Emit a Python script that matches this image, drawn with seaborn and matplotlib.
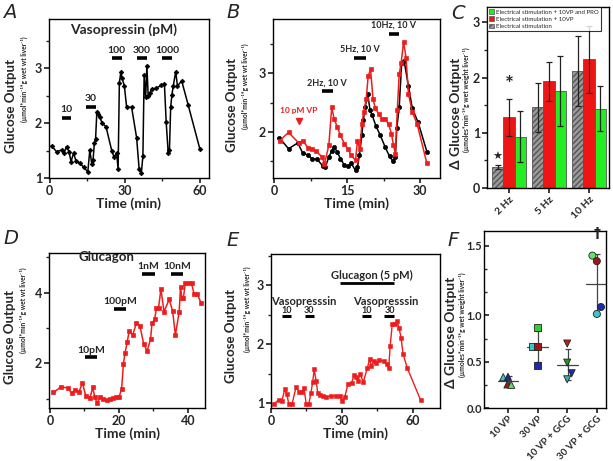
import numpy as np
import pandas as pd
import matplotlib
matplotlib.use("Agg")
import matplotlib.pyplot as plt
import seaborn as sns
from matplotlib.patches import Patch
from matplotlib.ticker import MultipleLocator, FixedLocator

# ---- panel A: vasopressin dose response ----
A_time = [0.7, 2.7, 4.7, 5.7, 6.7, 7.7, 8.5, 9.5, 10.5, 12.0, 13.5, 15.2, 16.0, 16.8,
          17.3, 17.8, 18.3, 18.8, 19.4, 20.0, 20.8, 22.5, 24.8, 25.7, 26.7, 27.3, 27.8,
          28.4, 28.9, 29.8, 30.7, 32.7, 34.7, 35.7, 36.6, 37.2, 37.7, 38.3, 38.8, 39.3,
          40.0, 40.8, 42.6, 44.6, 45.8, 46.5, 47.3, 47.8, 48.3, 48.8, 49.3, 50.3, 51.0,
          52.7, 55.3, 60.0]
A_glucose = [1.59, 1.48, 1.51, 1.46, 1.57, 1.48, 1.30, 1.45, 1.31, 1.27, 1.20, 1.11, 1.51,
             1.25, 1.33, 1.63, 1.71, 2.20, 2.17, 2.12, 2.01, 1.93, 1.49, 1.38, 1.46, 1.16,
             2.74, 2.93, 2.82, 2.68, 2.29, 2.29, 1.73, 1.16, 1.10, 1.40, 2.88, 2.47, 3.05,
             2.50, 2.55, 2.62, 2.64, 2.69, 2.71, 2.02, 1.46, 1.51, 2.30, 2.52, 2.67, 2.94,
             2.68, 2.77, 2.33, 1.52]
A_doses = ["10", "30", "100", "300", "1000"]
A_dose_start = [4.7, 14.4, 24.7, 34.7, 45.0]
A_dose_end = [8.3, 18.4, 28.7, 38.7, 48.7]
A_dose_level = [2.10, 2.30, 3.18, 3.18, 3.18]

# ---- panel B: electrical stimulation, with / without 10 pM VP ----
B_time_ctrl = [1.0, 2.9, 4.8, 5.8, 6.9, 7.7, 8.8, 9.9, 10.5, 11.2, 11.8, 12.3, 12.9, 13.6,
               14.4, 15.1, 15.8, 16.7, 17.1, 17.5, 18.0, 18.3, 18.7, 19.2, 19.7, 20.1, 20.9,
               21.8, 22.8, 23.7, 24.4, 24.9, 25.2, 25.7, 26.2, 26.7, 27.6, 28.4, 29.6, 31.4]
B_glucose_ctrl = [1.90, 1.71, 1.81, 1.64, 1.60, 1.54, 1.53, 1.42, 1.40, 1.57, 1.67, 1.74,
                  1.66, 1.54, 1.43, 1.41, 1.46, 1.34, 1.40, 1.60, 1.94, 2.20, 2.43, 2.65,
                  2.37, 2.29, 2.10, 1.94, 1.74, 1.58, 1.50, 1.57, 2.06, 2.43, 3.17, 3.22,
                  2.78, 2.40, 2.16, 1.66]
B_time_vp = [1.1, 2.9, 5.0, 5.8, 6.9, 7.7, 8.6, 9.8, 10.3, 11.2, 11.8, 12.3, 12.9, 13.6,
             14.4, 15.1, 15.8, 16.7, 17.1, 17.6, 18.0, 18.4, 18.9, 19.3, 19.8, 20.3, 20.8,
             21.5, 22.2, 22.8, 23.5, 24.1, 24.5, 24.9, 25.3, 25.7, 26.1, 26.6, 27.1, 27.6,
             28.4, 29.4, 31.4]
B_glucose_vp = [1.85, 1.99, 1.81, 1.85, 1.73, 1.71, 1.67, 1.57, 1.45, 1.77, 2.42, 2.22,
                2.09, 1.94, 1.80, 1.71, 1.60, 1.51, 1.85, 1.70, 2.13, 2.34, 2.56, 2.95,
                3.07, 2.56, 2.40, 2.30, 2.22, 2.22, 2.13, 1.97, 1.78, 1.62, 2.37, 2.99,
                3.18, 3.54, 3.27, 2.65, 2.34, 2.13, 1.46]
B_stims = ["2Hz, 10 V", "5Hz, 10 V", "10Hz, 10 V"]
B_stim_start = [9.7, 16.4, 23.5]
B_stim_end = [12.0, 18.8, 25.7]
B_stim_level = [2.69, 3.26, 3.68]

# ---- panel C: delta glucose output per frequency ----
C_freqs = ["2 Hz", "5 Hz", "10 Hz"]
C_conditions = ["Electrical stimulation", "Electrical stimulation + 10VP",
                "Electrical stimulation + 10VP and PRO"]
C_mean = {"Electrical stimulation": [0.38, 1.46, 2.12],
          "Electrical stimulation + 10VP": [1.28, 1.93, 2.33],
          "Electrical stimulation + 10VP and PRO": [0.93, 1.76, 1.44]}
C_err = {"Electrical stimulation": [0.04, 0.45, 0.63],
         "Electrical stimulation + 10VP": [0.33, 0.36, 0.61],
         "Electrical stimulation + 10VP and PRO": [0.46, 0.64, 0.41]}

# ---- panel D: glucagon dose response ----
D_time = [1.0, 3.1, 5.2, 6.3, 7.2, 8.4, 9.4, 10.4, 11.6, 12.4, 13.0, 13.7, 14.5, 15.3,
          16.4, 17.4, 18.4, 19.3, 20.1, 20.8, 21.3, 21.8, 22.4, 23.0, 24.0, 25.1, 26.1,
          27.2, 28.2, 29.2, 29.6, 30.4, 30.9, 31.5, 32.2, 33.1, 34.6, 35.6, 36.4, 37.5,
          37.9, 38.3, 38.7, 39.3, 40.3, 41.1, 41.8, 42.7, 43.9]
D_glucose = [1.18, 1.33, 1.31, 1.15, 1.26, 1.19, 1.45, 1.07, 1.03, 1.32, 1.05, 0.87, 1.05,
             1.00, 0.96, 0.99, 1.03, 1.05, 1.06, 1.29, 1.98, 2.30, 2.60, 2.92, 2.80, 3.15,
             3.06, 2.55, 2.35, 2.69, 3.13, 3.26, 3.56, 3.56, 4.10, 3.46, 3.81, 3.48, 2.80,
             3.46, 4.17, 3.84, 3.84, 4.27, 4.26, 4.26, 3.97, 3.97, 3.70]
D_doses = ["10pM", "100pM", "1nM", "10nM"]
D_dose_start = [10.1, 18.5, 26.7, 35.1]
D_dose_end = [13.7, 22.1, 30.4, 38.6]
D_dose_level = [2.17, 3.53, 4.53, 4.53]

# ---- panel E: vasopressin on top of 5 pM glucagon ----
E_time = [1.4, 3.2, 4.6, 5.8, 6.7, 7.5, 8.9, 10.6, 12.0, 13.0, 14.0, 14.9, 16.0, 16.9,
          17.6, 18.3, 19.1, 19.8, 20.8, 21.9, 23.4, 25.5, 27.7, 29.1, 29.9, 31.2, 32.6,
          34.1, 35.1, 35.9, 36.9, 37.6, 39.1, 40.8, 41.7, 42.5, 43.4, 44.5, 45.9, 47.6,
          49.0, 49.8, 50.4, 51.3, 52.4, 53.3, 54.2, 55.0, 55.9, 57.6, 63.3]
E_glucose = [0.99, 1.05, 1.03, 1.23, 1.15, 0.99, 0.98, 1.27, 1.18, 1.19, 1.25, 0.98, 0.99,
             1.17, 1.35, 1.57, 1.37, 1.17, 1.13, 1.12, 1.10, 1.12, 1.12, 1.12, 1.04, 1.10,
             1.33, 1.34, 1.47, 1.44, 1.38, 1.49, 1.36, 1.60, 1.74, 1.63, 1.71, 1.68, 1.73,
             1.71, 1.66, 1.59, 1.96, 2.34, 2.34, 2.39, 2.27, 2.11, 1.83, 1.60, 1.05]
E_vp_doses = ["10", "30", "10", "30"]
E_vp_start = [4.5, 14.2, 38.4, 48.0]
E_vp_end = [8.5, 18.2, 42.4, 52.2]

# ---- panel F: individual livers ----
F_groups = ["10 VP", "30 VP", "10 VP + GCG", "30 VP + GCG"]
F_values = [[0.333, 0.337, 0.254, 0.250],
            [0.87, 0.66, 0.66, 0.454],
            [0.696, 0.49, 0.375, 0.31],
            [1.43, 1.39, 1.06, 1.01]]
F_colors = [["#39c6c6", "#1c2a9a", "#a01616", "#5fdc5f"],
            ["#2fcf2f", "#39c6c6", "#a01616", "#1c2ab0"],
            ["#c41a1a", "#1f9a1f", "#1c2ab0", "#39b0b0"],
            ["#5fe85f", "#a01616", "#1c2ab0", "#39c6c6"]]
F_markers = ["^", "s", "v", "o"]
F_offsets = [[-0.16, 0.0, -0.02, 0.11], [0.0, -0.16, 0.0, 0.0],
             [0.0, 0.0, 0.15, 0.0], [-0.15, 0.0, 0.14, 0.0]]

RED = "#ee1d1d"
W, H = 613, 461

sns.set_theme(style="ticks")
plt.rcParams["font.family"] = ["Lato", "DejaVu Sans"]
plt.rcParams["font.weight"] = "bold"
plt.rcParams["axes.linewidth"] = 1.0
plt.rcParams["xtick.major.size"] = 3.5
plt.rcParams["ytick.major.size"] = 3.5
plt.rcParams["xtick.minor.size"] = 2
plt.rcParams["ytick.minor.size"] = 2
plt.rcParams["xtick.minor.visible"] = True
plt.rcParams["ytick.minor.visible"] = True

fig = plt.figure(figsize=(W / 100, H / 100), dpi=100)


def add_ax(l, r, t, b):
    return fig.add_axes([l / W, 1 - b / H, (r - l) / W, (b - t) / H])


def style(ax, tick_size=9):
    for s in ax.spines.values():
        s.set_visible(True)
        s.set_color("black")
    ax.tick_params(labelsize=tick_size, pad=1.5)
    for lab in ax.get_xticklabels() + ax.get_yticklabels():
        lab.set_fontweight("bold")


def ylabels(ax, main, units, xm, ym, xu, yu, size=9.5):
    ax.text(xm, ym, main, transform=ax.transAxes, rotation=90, ha="center",
            va="center", fontsize=size, fontweight="bold")
    ax.text(xu, yu, units, transform=ax.transAxes, rotation=90, ha="center",
            va="center", fontsize=4.8, fontweight="bold")


def dose_bar(ax, x0, x1, y, label, size=7.5, dy=0.06):
    ax.plot([x0, x1], [y, y], color="black", lw=2.6, solid_capstyle="butt")
    ax.text((x0 + x1) / 2, y + dy, label, ha="center", va="bottom",
            fontsize=size, fontweight="bold")


units_wt = "(µmol*min⁻¹*g wet wt liver⁻¹)"
units_ww = "(µmoles*min⁻¹*g wet weight liver⁻¹)"

# ---------------- A ----------------
ax = add_ax(49, 209, 19, 178)
sns.lineplot(x=A_time, y=A_glucose, ax=ax, color="black", marker="D", markersize=2.4,
             markeredgecolor="black", markeredgewidth=0.5, lw=1.1, sort=False,
             estimator=None)
ax.set_xlim(-0.3, 63.6)
ax.set_ylim(1, 3.9)
ax.set_xticks([0, 30, 60])
ax.set_yticks([1, 2, 3])
ax.xaxis.set_minor_locator(MultipleLocator(15))
ax.yaxis.set_minor_locator(MultipleLocator(0.5))
ax.set_xlabel("Time (min)", fontsize=10, fontweight="bold", labelpad=0)
ax.set_ylabel("")
for lab, x0, x1, lv in zip(A_doses, A_dose_start, A_dose_end, A_dose_level):
    dose_bar(ax, x0, x1, lv, lab, size=7.5, dy=0.06)
ax.text(29.3, 3.71, "Vasopressin (pM)", ha="center", va="center", fontsize=10,
        fontweight="bold")
style(ax)
ylabels(ax, "Glucose Output", units_wt, -0.24, 0.455, -0.156, 0.62)

# ---------------- B ----------------
ax = add_ax(273, 440, 19, 178)
sns.lineplot(x=B_time_ctrl, y=B_glucose_ctrl, ax=ax, color="black", marker="o",
             markersize=3.0, markeredgecolor="black", markeredgewidth=0.5, lw=1.1,
             sort=False, estimator=None)
sns.lineplot(x=B_time_vp, y=B_glucose_vp, ax=ax, color=RED, marker="s",
             markersize=3.2, markeredgecolor=RED, markeredgewidth=0.5, lw=1.1,
             sort=False, estimator=None)
ax.set_xlim(-0.3, 34.1)
ax.set_ylim(1.21, 3.93)
ax.set_xticks([0, 15, 30])
ax.set_yticks([2, 3])
ax.xaxis.set_minor_locator(MultipleLocator(7.5))
ax.yaxis.set_minor_locator(MultipleLocator(0.5))
ax.set_xlabel("Time (min)", fontsize=10, fontweight="bold", labelpad=0)
for lab, x0, x1, lv in zip(B_stims, B_stim_start, B_stim_end, B_stim_level):
    dose_bar(ax, x0, x1, lv, lab, size=6.5, dy=0.07)
ax.text(5.0, 2.31, "10 pM VP", color=RED, ha="center", va="bottom", fontsize=6,
        fontweight="bold")
ax.plot([5.0], [2.18], marker="v", color=RED, markersize=4.5)
style(ax)
ylabels(ax, "Glucose Output", units_wt, -0.245, 0.46, -0.165, 0.58)

# ---------------- C ----------------
ax = add_ax(487, 609, 7, 188)
rows = []
for cond in C_conditions:
    for f, m in zip(C_freqs, C_mean[cond]):
        rows.append({"freq": f, "cond": cond, "value": m})
cdf = pd.DataFrame(rows)
palette = {C_conditions[0]: "#9a9a9a", C_conditions[1]: "#ee1515", C_conditions[2]: "#22ee22"}
sns.barplot(data=cdf, x="freq", y="value", hue="cond", hue_order=C_conditions,
            palette=palette, ax=ax, errorbar=None, width=0.86, edgecolor="#555555",
            linewidth=0.6, saturation=1, legend=False)
for i, cond in enumerate(C_conditions):
    cont = ax.containers[i]
    xs = [b.get_x() + b.get_width() / 2 for b in cont]
    ax.errorbar(xs, C_mean[cond], yerr=C_err[cond], fmt="none", ecolor="#222222",
                elinewidth=0.9, capsize=2.5, capthick=0.9)
    if i == 0:
        for b in cont:
            b.set_hatch("//////")
            b.set_edgecolor("#555555")
gx = [b.get_x() + b.get_width() / 2 for b in ax.containers[0]]
rx = [b.get_x() + b.get_width() / 2 for b in ax.containers[1]]
ax.text(gx[0], 0.47, "★", ha="center", va="bottom", fontsize=8, family="DejaVu Sans")
ax.text(rx[0], 1.68, "*", ha="center", va="bottom", fontsize=15, fontweight="bold")
ax.set_ylim(0, 3.28)
ax.set_xlim(-0.55, 2.5)
ax.set_yticks([0, 1, 2, 3])
ax.yaxis.set_minor_locator(MultipleLocator(0.5))
ax.xaxis.set_minor_locator(FixedLocator([]))
ax.set_xlabel("")
ax.set_ylabel("")
style(ax)
ax.tick_params(axis="x", labelsize=7.5)
plt.setp(ax.get_xticklabels(), rotation=45, ha="right", rotation_mode="anchor",
         fontweight="bold")
handles = [Patch(facecolor="#22ee22", edgecolor="#555555", lw=0.5),
           Patch(facecolor="#ee1515", edgecolor="#555555", lw=0.5),
           Patch(facecolor="#9a9a9a", edgecolor="#555555", hatch="//////", lw=0.5)]
leg = ax.legend(handles, C_conditions[::-1], loc="upper left",
                prop={"size": 4.4, "weight": "normal"},
                frameon=True, handlelength=0.8, handleheight=0.8, handletextpad=0.4,
                borderpad=0.35, labelspacing=0.3, borderaxespad=0,
                bbox_to_anchor=(0.0, 1.0))
leg.get_frame().set_edgecolor("black")
leg.get_frame().set_linewidth(0.8)
leg.get_frame().set_boxstyle("square", pad=0)
ylabels(ax, "Δ Glucose Output", units_ww, -0.255, 0.41, -0.165, 0.49, size=10)

# ---------------- D ----------------
ax = add_ax(49, 205, 253, 408)
sns.lineplot(x=D_time, y=D_glucose, ax=ax, color=RED, marker="s", markersize=3.0,
             markeredgecolor=RED, markeredgewidth=0.5, lw=1.1, sort=False,
             estimator=None)
ax.set_xlim(-0.3, 45)
ax.set_ylim(0.74, 5.12)
ax.set_xticks([0, 20, 40])
ax.set_yticks([2, 4])
ax.xaxis.set_minor_locator(MultipleLocator(10))
ax.yaxis.set_minor_locator(MultipleLocator(1))
ax.set_xlabel("Time (min)", fontsize=10, fontweight="bold", labelpad=0)
for lab, x0, x1, lv in zip(D_doses, D_dose_start, D_dose_end, D_dose_level):
    dose_bar(ax, x0, x1, lv, lab, size=7.5, dy=0.08)
ax.text(16.3, 5.0, "Glucagon", ha="center", va="center", fontsize=9.5,
        fontweight="bold")
style(ax)
ylabels(ax, "Glucose Output", units_wt, -0.25, 0.46, -0.167, 0.63)

# ---------------- E ----------------
ax = add_ax(271, 440, 254, 408)
sns.lineplot(x=E_time, y=E_glucose, ax=ax, color=RED, marker="s", markersize=2.2,
             markeredgecolor=RED, markeredgewidth=0.4, lw=1.0, sort=False,
             estimator=None)
ax.set_xlim(0, 71.5)
ax.set_ylim(0.915, 3.53)
ax.set_xticks([0, 30, 60])
ax.set_yticks([1, 2, 3])
ax.xaxis.set_minor_locator(MultipleLocator(15))
ax.yaxis.set_minor_locator(MultipleLocator(0.5))
ax.set_xlabel("Time (min)", fontsize=10, fontweight="bold", labelpad=0)
for lab, x0, x1 in zip(E_vp_doses, E_vp_start, E_vp_end):
    ax.plot([x0, x1], [2.48, 2.48], color="black", lw=2.2, solid_capstyle="butt")
    ax.text((x0 + x1) / 2, 2.5, lab, ha="center", va="bottom", fontsize=6.5,
            fontweight="bold")
ax.text(14.0, 2.73, "Vasopresssin", ha="center", va="center", fontsize=8,
        fontweight="bold")
ax.text(48.5, 2.73, "Vasopresssin", ha="center", va="center", fontsize=8,
        fontweight="bold")
ax.plot([29.0, 52.2], [3.04, 3.04], color="black", lw=2.0, solid_capstyle="butt")
ax.text(42.8, 3.08, "Glucagon (5 pM)", ha="center", va="bottom", fontsize=8,
        fontweight="bold")
style(ax)
ylabels(ax, "Glucose Output", units_wt, -0.237, 0.47, -0.142, 0.64)

# ---------------- F ----------------
ax = add_ax(484, 606, 231, 408)


def fwd(y):
    y = np.asarray(y, dtype=float)
    return np.where(y <= 1, y, 1 + (y - 1) * 1.5)


def inv(z):
    z = np.asarray(z, dtype=float)
    return np.where(z <= 1, z, 1 + (z - 1) / 1.5)


ax.set_yscale("function", functions=(fwd, inv))
frows = []
for gi, (g, vals) in enumerate(zip(F_groups, F_values)):
    for j, v in enumerate(vals):
        frows.append({"x": gi + F_offsets[gi][j], "value": v, "color": F_colors[gi][j],
                      "group": g})
fdf = pd.DataFrame(frows)
for gi, g in enumerate(F_groups):
    vals = np.array(F_values[gi])
    m, sd = vals.mean(), vals.std(ddof=1)
    ax.errorbar([gi + 0.02], [m], yerr=[sd], fmt="none", ecolor="#444444",
                elinewidth=0.9, capsize=2.5, capthick=0.9, zorder=1)
    ax.plot([gi - 0.35, gi + 0.35], [m, m], color="#444444", lw=0.9, zorder=1)
    sub = fdf[fdf["group"] == g]
    sns.scatterplot(data=sub, x="x", y="value", hue="color",
                    palette=dict(zip(sub["color"], sub["color"])),
                    marker=F_markers[gi], s=26, edgecolor="#222222", linewidth=0.6,
                    ax=ax, legend=False, zorder=3)
ax.text(3.0, 1.545, "†", ha="center", va="bottom", fontsize=10, fontweight="bold",
        family="DejaVu Sans")
ax.set_xlim(-0.81, 3.31)
ax.set_ylim(0, 1.607)
ax.set_yticks([0.0, 0.5, 1.0, 1.5])
ax.set_yticklabels(["0.0", "0.5", "1.0", "1.5"])
ax.yaxis.set_minor_locator(FixedLocator([0.25, 0.75, 1.1667, 1.3333]))
ax.set_xticks(range(len(F_groups)))
ax.set_xticklabels(F_groups)
ax.xaxis.set_minor_locator(FixedLocator([]))
ax.set_xlabel("")
ax.set_ylabel("")
style(ax, tick_size=8)
ax.tick_params(axis="y", which="both", direction="in", pad=1.5)
ax.tick_params(axis="x", labelsize=7, pad=1)
plt.setp(ax.get_xticklabels(), rotation=45, ha="right", rotation_mode="anchor",
         fontweight="bold")
ylabels(ax, "Δ Glucose Output", units_ww, -0.27, 0.43, -0.176, 0.47, size=10)

# panel letters
for letter, (px, py) in {"A": (3, 3), "B": (226, 3), "C": (451, 4),
                         "D": (3, 229), "E": (226, 231), "F": (447, 231)}.items():
    fig.text(px / W, 1 - py / H, letter, ha="left", va="top", fontsize=14,
             style="italic", fontweight="normal", family="DejaVu Sans")

fig.savefig("out.png", dpi=100)
